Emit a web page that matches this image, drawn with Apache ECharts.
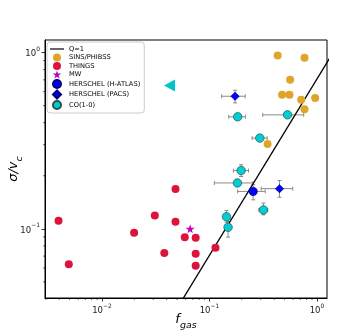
<!DOCTYPE html>
<html><head><meta charset="utf-8">
<script src="https://cdn.jsdelivr.net/npm/echarts@6/dist/echarts.min.js"></script>
<style>html,body{margin:0;padding:0;background:#fff}#c{width:364px;height:336px}</style>
</head><body><div id="c"></div>
<script>
// ---- data ----
const qLineX = [0.04, 1.5];
const qLineY = [0.0283, 1.06];

const sinsX = [0.431, 0.766, 0.563, 0.474, 0.555, 0.713, 0.962, 0.766, 0.347];
const sinsY = [0.961, 0.933, 0.70, 0.577, 0.577, 0.539, 0.553, 0.476, 0.303];

const thingsX = [0.00394, 0.00491, 0.0199, 0.031, 0.0483, 0.0483, 0.038, 0.0589, 0.0744, 0.0744, 0.0744, 0.1137];
const thingsY = [0.111, 0.063, 0.0949, 0.119, 0.168, 0.1096, 0.073, 0.0897, 0.0889, 0.0721, 0.0618, 0.078];

const mwX = [0.0661];
const mwY = [0.100];

const hatlasX = [0.255];
const hatlasY = [0.163];
const hatlasXlo = [0.183];
const hatlasXhi = [0.330];
const hatlasYlo = [0.146];
const hatlasYhi = [0.178];

const pacsX = [0.173, 0.448];
const pacsY = [0.565, 0.169];
const pacsXlo = [0.130, 0.303];
const pacsXhi = [0.215, 0.595];
const pacsYlo = [0.518, 0.151];
const pacsYhi = [0.611, 0.188];

const coX   = [0.183, 0.532, 0.294, 0.197, 0.182, 0.318, 0.144, 0.149];
const coY   = [0.432, 0.443, 0.327, 0.214, 0.182, 0.128, 0.117, 0.102];
const coXlo = [0.151, 0.313, 0.249, 0.167, 0.111, 0.288, 0.144, 0.149];
const coXhi = [0.216, 0.753, 0.344, 0.231, 0.253, 0.348, 0.144, 0.149];
const coYlo = [0.432, 0.443, 0.327, 0.198, 0.176, 0.120, 0.109, 0.0897];
const coYhi = [0.432, 0.443, 0.327, 0.231, 0.189, 0.140, 0.127, 0.110];

const triX = [0.0425];
const triY = [0.650];

const xMajorTicks = [0.01, 0.1, 1];
const yMajorTicks = [0.1, 1];
const xMinorTicks = [0.003,0.004,0.005,0.006,0.007,0.008,0.009,0.02,0.03,0.04,0.05,0.06,0.07,0.08,0.09,0.2,0.3,0.4,0.5,0.6,0.7,0.8,0.9];
const yMinorTicks = [0.05,0.06,0.07,0.08,0.09,0.2,0.3,0.4,0.5,0.6,0.7,0.8,0.9];

const X_MIN = 0.00295, X_MAX = 1.24, Y_MIN = 0.0405, Y_MAX = 1.178;

// ---- helpers ----
const zip = (a, b) => a.map((v, i) => [v, b[i]]);
const errData = (x, y, xlo, xhi, ylo, yhi) => x.map((v, i) => [v, y[i], xlo[i], xhi[i], ylo[i], yhi[i]]);

function errRender(params, api) {
  const x = api.value(0), y = api.value(1);
  const xlo = api.value(2), xhi = api.value(3), ylo = api.value(4), yhi = api.value(5);
  const l = api.coord([xlo, y]), r = api.coord([xhi, y]);
  const b = api.coord([x, ylo]), t = api.coord([x, yhi]);
  const cap = 2;
  const st = {stroke: '#8a8a8a', lineWidth: 1};
  const ch = [];
  const ln = (x1, y1, x2, y2) => ch.push({type: 'line', shape: {x1, y1, x2, y2}, style: st});
  if (xhi > xlo) {
    ln(l[0], l[1], r[0], r[1]);
    ln(l[0], l[1] - cap, l[0], l[1] + cap);
    ln(r[0], r[1] - cap, r[0], r[1] + cap);
  }
  if (yhi > ylo) {
    ln(b[0], b[1], t[0], t[1]);
    ln(b[0] - cap, b[1], b[0] + cap, b[1]);
    ln(t[0] - cap, t[1], t[0] + cap, t[1]);
  }
  return {type: 'group', children: ch};
}

function xMinorRender(params, api) {
  const p = api.coord([api.value(0), Y_MIN]);
  return {type: 'line', shape: {x1: p[0], y1: p[1], x2: p[0], y2: p[1] + 2}, style: {stroke: '#000', lineWidth: 0.6}};
}
function yMinorRender(params, api) {
  const p = api.coord([X_MIN, api.value(1)]);
  return {type: 'line', shape: {x1: p[0] - 2, y1: p[1], x2: p[0], y2: p[1]}, style: {stroke: '#000', lineWidth: 0.6}};
}

function powLabel(v) {
  const e = Math.round(Math.log10(v));
  const s = e < 0 ? '\u2212' + (-e) : String(e);
  return '{b|10}{s|' + s + '}';
}
const supRich = {
  b: {fontSize: 8.5, color: '#222', fontFamily: 'DejaVu Sans', lineHeight: 12, verticalAlign: 'bottom'},
  s: {fontSize: 6, color: '#222', fontFamily: 'DejaVu Sans', lineHeight: 12, verticalAlign: 'top'}
};
const nameRich = {
  i: {fontSize: 13, fontStyle: 'italic', fontFamily: 'DejaVu Sans', color: '#000', lineHeight: 18, verticalAlign: 'top'},
  sub: {fontSize: 9.5, fontStyle: 'italic', fontFamily: 'DejaVu Sans', color: '#000', lineHeight: 18, verticalAlign: 'bottom'}
};

const STAR = 'path://M50,0 L61.8,35.1 L98.5,35.1 L68.8,56.8 L79.4,90.9 L50,69.6 L20.6,90.9 L31.2,56.8 L1.5,35.1 L38.2,35.1 Z';
const DIAMOND = 'path://M5,0 L10,5 L5,10 L0,5 Z';
const LINEICON = 'path://M0,0 L14,0 L14,1.2 L0,1.2 Z';

const chart = echarts.init(document.getElementById('c'), null, {renderer: 'canvas'});
chart.setOption({
  animation: false,
  backgroundColor: '#fff',
  grid: {left: 45, right: 37, top: 40, bottom: 38, containLabel: false, outerBoundsMode: 'none',
         show: true, borderColor: '#000', borderWidth: 1, backgroundColor: 'transparent'},
  xAxis: {
    type: 'log', logBase: 10, min: X_MIN, max: X_MAX,
    name: '{i|f}{sub|gas}', nameLocation: 'middle', nameGap: 15, nameMoveOverlap: false,
    nameTextStyle: {rich: nameRich},
    axisLine: {show: true, lineStyle: {color: '#000', width: 1}},
    axisTick: {show: true, inside: false, length: 3.5, lineStyle: {color: '#000', width: 0.8}},
    axisLabel: {show: true, margin: 5, formatter: powLabel, rich: supRich, showMinLabel: false, showMaxLabel: false, hideOverlap: false},
    splitLine: {show: false}
  },
  yAxis: {
    type: 'log', logBase: 10, min: Y_MIN, max: Y_MAX,
    name: '{i|\u03c3/v}{sub|c}', nameLocation: 'middle', nameGap: 20, nameRotate: 90, nameMoveOverlap: false,
    nameTextStyle: {rich: nameRich},
    axisLine: {show: true, lineStyle: {color: '#000', width: 1}},
    axisTick: {show: true, inside: false, length: 3.5, lineStyle: {color: '#000', width: 0.8}},
    axisLabel: {show: true, margin: 5, formatter: powLabel, rich: supRich, showMinLabel: false, showMaxLabel: false, hideOverlap: false},
    splitLine: {show: false}
  },
  legend: {
    orient: 'vertical', left: 47, top: 42,
    itemWidth: 14, itemHeight: 8, itemGap: 0.5,
    padding: [3, 4, 3, 3],
    borderColor: '#cccccc', borderWidth: 1, borderRadius: 3, backgroundColor: '#fff',
    selectedMode: false, symbolKeepAspect: true,
    textStyle: {fontSize: 6.7, fontFamily: 'DejaVu Sans', color: '#000', lineHeight: 8},
    data: [
      {name: 'Q=1', icon: LINEICON},
      {name: 'SINS/PHIBSS'}, {name: 'THINGS'}, {name: 'MW'},
      {name: 'HERSCHEL (H-ATLAS)'},
      {name: 'HERSCHEL (PACS)', icon: DIAMOND},
      {name: 'CO(1-0)'}
    ]
  },
  series: [
    {type: 'custom', silent: true, data: xMinorTicks.map(v => [v, Y_MIN]), renderItem: xMinorRender, clip: false, z: 1},
    {type: 'custom', silent: true, data: yMinorTicks.map(v => [X_MIN, v]), renderItem: yMinorRender, clip: false, z: 1},
    {name: 'Q=1', type: 'line', data: zip(qLineX, qLineY), symbol: 'none', showSymbol: false,
     lineStyle: {color: '#000', width: 1.3}, itemStyle: {color: '#000'}, clip: true, z: 2},
    {name: 'SINS/PHIBSS', type: 'scatter', data: zip(sinsX, sinsY), symbol: 'circle', symbolSize: 8,
     itemStyle: {color: '#DFA52A', opacity: 1}, z: 3},
    {name: 'THINGS', type: 'scatter', data: zip(thingsX, thingsY), symbol: 'circle', symbolSize: 8,
     itemStyle: {color: '#DC143C', opacity: 1}, z: 3},
    {name: 'MW', type: 'scatter', data: zip(mwX, mwY), symbol: STAR, symbolSize: 9,
     itemStyle: {color: '#C000C0', opacity: 1}, z: 3},
    {type: 'custom', silent: true, data: errData(hatlasX, hatlasY, hatlasXlo, hatlasXhi, hatlasYlo, hatlasYhi), renderItem: errRender, z: 2},
    {type: 'custom', silent: true, data: errData(pacsX, pacsY, pacsXlo, pacsXhi, pacsYlo, pacsYhi), renderItem: errRender, z: 2},
    {type: 'custom', silent: true, data: errData(coX, coY, coXlo, coXhi, coYlo, coYhi), renderItem: errRender, z: 2},
    {name: 'HERSCHEL (H-ATLAS)', type: 'scatter', data: zip(hatlasX, hatlasY), symbol: 'circle', symbolSize: 8.5,
     itemStyle: {color: '#0000FF', borderColor: '#00007a', borderWidth: 0.5, opacity: 1}, z: 4},
    {name: 'HERSCHEL (PACS)', type: 'scatter', data: zip(pacsX, pacsY), symbol: 'diamond', symbolSize: 8.5,
     itemStyle: {color: '#0000FF', borderColor: '#00007a', borderWidth: 0.5, opacity: 1}, z: 4},
    {name: 'CO(1-0)', type: 'scatter', data: zip(coX, coY), symbol: 'circle', symbolSize: 8.5,
     itemStyle: {color: '#00CED1', borderColor: '#2b4f50', borderWidth: 0.7, opacity: 1}, z: 4},
    {type: 'scatter', data: zip(triX, triY), symbol: 'triangle', symbolRotate: 90, symbolSize: [12, 11],
     itemStyle: {color: '#00C4C8', opacity: 1}, z: 4}
  ]
});
</script>
</body></html>
